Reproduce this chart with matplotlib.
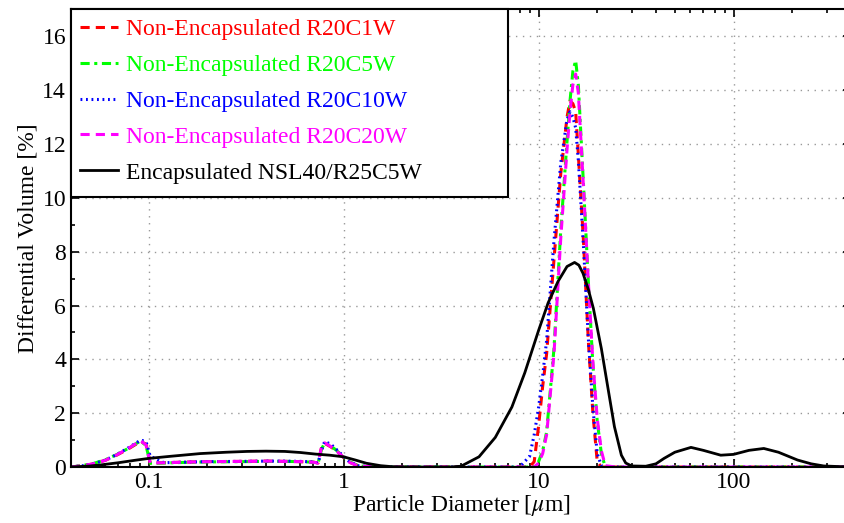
import numpy as np
import matplotlib
matplotlib.use('Agg')
import matplotlib.pyplot as plt
from matplotlib.patches import Rectangle
from matplotlib.ticker import MultipleLocator, LogLocator, NullFormatter

plt.rcParams['font.family'] = ['Liberation Serif', 'DejaVu Serif']
plt.rcParams['mathtext.fontset'] = 'stix'

# Diametros de las particulas (um) para las muestras no encapsuladas
x_ne = [0.040, 0.046, 0.052, 0.060, 0.069, 0.079, 0.091, 0.097, 0.102, 0.12,
        0.15, 0.2, 0.3, 0.4, 0.5, 0.6, 0.7, 0.74, 0.77, 0.80,
        0.86, 0.92, 1.0, 1.07, 1.2, 1.5, 2, 3, 5, 8,
        9, 9.5, 10, 10.5, 11, 12, 13, 14, 14.5, 15,
        15.5, 16, 17, 18, 19, 20, 21, 22, 25, 40,
        100, 400]

r20c1w = [0, 0.05, 0.12, 0.25, 0.45, 0.68, 0.95, 0.85, 0.15, 0.16,
          0.18, 0.2, 0.21, 0.22, 0.21, 0.2, 0.18, 0.15, 0.7, 0.88,
          0.75, 0.6, 0.35, 0.18, 0.03, 0, 0, 0, 0, 0,
          0, 0.2, 1.5, 3.0, 4.2, 7.7, 10.9, 13.0, 13.6, 13.5,
          13.2, 11.6, 8.4, 4.7, 2.0, 0.2, 0, 0, 0, 0,
          0, 0]

r20c5w = [0, 0.06, 0.13, 0.27, 0.47, 0.7, 0.97, 0.8, 0.14, 0.15,
          0.17, 0.19, 0.2, 0.21, 0.21, 0.2, 0.18, 0.14, 0.65, 0.9,
          0.78, 0.62, 0.37, 0.2, 0.04, 0, 0, 0, 0, 0,
          0, 0, 0.2, 0.6, 1.3, 4.4, 8.8, 12.1, 13.6, 14.7,
          15.1, 14.2, 10.5, 6.9, 3.8, 1.7, 0.5, 0, 0, 0,
          0, 0]

r20c10w = [0, 0.05, 0.12, 0.26, 0.47, 0.72, 1.0, 0.95, 0.4, 0.16,
           0.18, 0.2, 0.21, 0.22, 0.22, 0.21, 0.19, 0.15, 0.6, 0.95,
           0.85, 0.65, 0.4, 0.2, 0.04, 0, 0, 0, 0, 0,
           0.4, 1.2, 2.2, 3.4, 4.7, 8.4, 11.3, 12.9, 13.2, 13.0,
           12.6, 11.4, 8.2, 4.8, 2.2, 0.5, 0.05, 0, 0, 0,
           0, 0]

r20c20w = [0, 0.05, 0.12, 0.25, 0.46, 0.7, 0.98, 0.82, 0.15, 0.16,
           0.18, 0.2, 0.21, 0.22, 0.21, 0.2, 0.18, 0.15, 0.72, 0.9,
           0.76, 0.6, 0.36, 0.18, 0.03, 0, 0, 0, 0, 0,
           0, 0, 0.15, 0.5, 1.2, 4.2, 8.5, 11.8, 13.2, 14.2,
           14.6, 13.9, 10.4, 6.9, 3.9, 1.8, 0.6, 0.05, 0, 0,
           0, 0]

# Muestra encapsulada
x_enc = [0.04, 0.05, 0.057, 0.07, 0.085, 0.1, 0.13, 0.184, 0.25, 0.32,
         0.40, 0.5, 0.6, 0.72, 0.85, 1.0, 1.15, 1.31, 1.55, 1.8,
         2.5, 3.5, 4.0, 4.95, 6, 7.3, 8.5, 10, 11.2, 12.6,
         14, 15.3, 16.1, 16.9, 18, 19.1, 21, 22.8, 24.5, 26.6,
         28, 30, 35.5, 40, 44, 50, 60.5, 70, 86, 100,
         120, 143, 170, 213, 250, 290, 400]
nsl40 = [0, 0.04, 0.08, 0.16, 0.25, 0.32, 0.4, 0.5, 0.55, 0.58,
         0.59, 0.58, 0.54, 0.48, 0.44, 0.38, 0.26, 0.14, 0.05, 0.01,
         0, 0, 0.03, 0.38, 1.1, 2.23, 3.5, 5.07, 6.1, 6.9,
         7.45, 7.6, 7.5, 7.2, 6.6, 5.9, 4.4, 2.85, 1.5, 0.44,
         0.15, 0.04, 0.03, 0.12, 0.32, 0.55, 0.73, 0.62, 0.44, 0.47,
         0.62, 0.69, 0.55, 0.26, 0.12, 0.04, 0]

fs = 17

fig = plt.figure(figsize=(8.45, 5.23), dpi=100)
ax = fig.add_axes([0.084, 0.107, 0.923, 0.875])

ax.plot(x_ne, r20c1w, color='#ff0000', ls=(0, (3, 2)), lw=2.2, label='Non-Encapsulated R20C1W')
ax.plot(x_ne, r20c5w, color='#00ff00', ls=(0, (3, 1.5, 1, 1.5)), lw=2.2, label='Non-Encapsulated R20C5W')
ax.plot(x_ne, r20c10w, color='#0000ff', ls=(0, (0.6, 1.2)), lw=2.2, label='Non-Encapsulated R20C10W')
ax.plot(x_ne, r20c20w, color='#ff00ff', ls=(0, (3, 2)), lw=2.2, label='Non-Encapsulated R20C20W')
ax.plot(x_enc, nsl40, color='black', lw=2.0, label='Encapsulated NSL40/R25C5W')

ax.set_xscale('log')
ax.set_xlim(0.04, 400)
ax.set_ylim(0, 17)
ax.set_xticks([0.1, 1, 10, 100])
ax.set_xticklabels(['0.1', '1', '10', '100'])
ax.xaxis.set_minor_locator(LogLocator(base=10, subs=np.arange(2, 10)))
ax.xaxis.set_minor_formatter(NullFormatter())
ax.yaxis.set_major_locator(MultipleLocator(2))
ax.yaxis.set_minor_locator(MultipleLocator(1))

ax.tick_params(which='both', direction='in', top=True, right=True, labelsize=fs, width=1.2)
ax.tick_params(which='major', length=6)
ax.tick_params(which='minor', length=3)
for s in ax.spines.values():
    s.set_linewidth(1.5)

ax.grid(True, which='major', color='0.6', ls=(0, (1, 4)), lw=1.0)

ax.set_xlabel(r'Particle Diameter [$\mu$m]', fontsize=fs, labelpad=0)
ax.set_ylabel('Differential Volume [%]', fontsize=fs, labelpad=3)

# caja de la leyenda (mas ancha que el texto, como en el original)
box = Rectangle((0, 0.59), 0.56, 0.41, transform=ax.transAxes, facecolor='white',
                edgecolor='black', lw=1.5, zorder=4, clip_on=False)
ax.add_patch(box)

leg = ax.legend(loc='upper left', fontsize=fs, frameon=False, borderaxespad=0,
                handlelength=1.6, handletextpad=0.35, labelspacing=0.61,
                labelcolor='linecolor', borderpad=0.38)
leg.set_zorder(5)

fig.savefig('out.png', dpi=100)
